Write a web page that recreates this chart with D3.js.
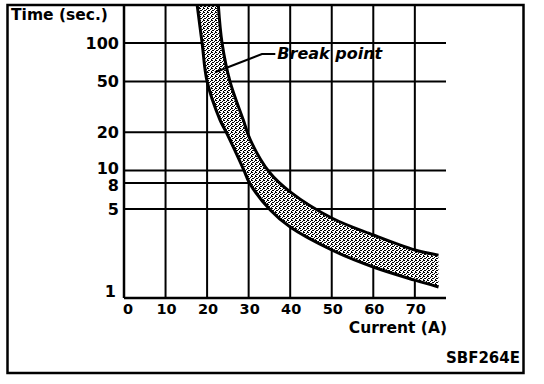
<!DOCTYPE html>
<html>
<head>
<meta charset="utf-8">
<script src="https://cdn.jsdelivr.net/npm/d3@7"></script>
<style>
  body { margin: 0; background: #fff; }
  text { font-family: 'DejaVu Sans', sans-serif; font-weight: bold; fill: #000; }
</style>
</head>
<body>
<div id="chart"></div>
<script>
const currentTicks = [0, 10, 20, 30, 40, 50, 60, 70];
const timeTicks = [1, 5, 8, 10, 20, 50, 100];
const fullGridTimes = [1, 5, 10, 50, 100];
const shortGridTimes = [8, 20]; // lines stop at 30 A

// lower (minimum) boundary of the band
const minCurrent = [17.6, 18.8, 20.0, 23.1, 24.6, 28.9, 30.2, 35.2, 40, 50, 60, 70, 75.7];
const minTime = [200, 100, 50, 25, 20, 10, 8, 4.9, 3.6, 2.38, 1.75, 1.38, 1.22];
// upper (maximum) boundary of the band
const maxCurrent = [22.7, 23.6, 25.5, 28.7, 30.4, 35, 40, 50, 60, 70, 75.7];
const maxTime = [200, 100, 50, 25, 17.4, 9.7, 6.8, 4.24, 3.12, 2.38, 2.17];

// "Break point" leader: arrow end, elbow, label start
const breakCurrent = [21.9, 33.2, 36.9];
const breakTime = [59, 82, 82];

const width = 544;
const height = 384;

const svg = d3.select('#chart')
  .append('svg')
  .attr('width', width)
  .attr('height', height);

const x = d3.scaleLinear().domain([0, 77.5]).range([124, 446]);
const y = d3.scaleLog().domain([1, 199]).range([298, 5]);

// stipple pattern for the band
const defs = svg.append('defs');
const pat = defs.append('pattern')
  .attr('id', 'stipple')
  .attr('width', 4)
  .attr('height', 4)
  .attr('patternUnits', 'userSpaceOnUse');
pat.append('rect').attr('width', 4).attr('height', 4).attr('fill', '#fff');
[[0, 0], [2, 1], [1, 2], [3, 3], [3, 0], [0, 2]].forEach(([px, py]) => {
  pat.append('rect').attr('x', px).attr('y', py).attr('width', 1).attr('height', 1).attr('fill', '#000');
});

defs.append('clipPath').attr('id', 'plotClip')
  .append('rect')
  .attr('x', x(0))
  .attr('y', y(199))
  .attr('width', x(77.5) - x(0))
  .attr('height', y(1) - y(199));

// grid
const grid = svg.append('g').attr('stroke', '#000');

grid.selectAll('.vline').data(currentTicks).enter()
  .append('line')
  .attr('x1', (d) => x(d))
  .attr('x2', (d) => x(d))
  .attr('y1', y(199))
  .attr('y2', y(1))
  .attr('stroke-width', (d) => (d === 0 ? 2.5 : 2));

grid.selectAll('.hfull').data(fullGridTimes).enter()
  .append('line')
  .attr('x1', x(0))
  .attr('x2', x(77.5))
  .attr('y1', (d) => y(d))
  .attr('y2', (d) => y(d))
  .attr('stroke-width', (d) => (d === 1 ? 2.5 : 2));

grid.selectAll('.hshort').data(shortGridTimes).enter()
  .append('line')
  .attr('x1', x(0))
  .attr('x2', x(30))
  .attr('y1', (d) => y(d))
  .attr('y2', (d) => y(d))
  .attr('stroke-width', 2);

// band
const lower = minCurrent.map((c, i) => [x(c), y(minTime[i])]);
const upper = maxCurrent.map((c, i) => [x(c), y(maxTime[i])]);
const line = d3.line().curve(d3.curveCatmullRom);

const band = svg.append('g').attr('clip-path', 'url(#plotClip)');
band.append('path')
  .attr('d', `${line(lower)}${line(upper.slice().reverse()).replace(/^M/, 'L')}Z`)
  .attr('fill', 'url(#stipple)')
  .attr('stroke', 'none');
[lower, upper].forEach((pts) => {
  band.append('path')
    .attr('d', line(pts))
    .attr('fill', 'none')
    .attr('stroke', '#000')
    .attr('stroke-width', 3);
});

// frame
svg.append('rect')
  .attr('x', 7.5)
  .attr('y', 5)
  .attr('width', 516)
  .attr('height', 368)
  .attr('fill', 'none')
  .attr('stroke', '#000')
  .attr('stroke-width', 2.5);

// y tick labels
svg.selectAll('.ylab').data(timeTicks).enter()
  .append('text')
  .attr('x', (d) => (d === 1 ? 116 : 119))
  .attr('y', (d) => {
    if (d === 1) return y(d) - 1;
    if (d === 10) return y(d) + 3;
    if (d === 8) return y(d) + 8;
    return y(d) + 6;
  })
  .attr('text-anchor', 'end')
  .style('font-size', '16px')
  .text((d) => d);

// x tick labels
svg.selectAll('.xlab').data(currentTicks).enter()
  .append('text')
  .attr('x', (d) => x(d) + (d === 0 ? 4 : 1))
  .attr('y', 314)
  .attr('text-anchor', 'middle')
  .style('font-size', '14.5px')
  .text((d) => d);

svg.append('text')
  .attr('x', 11)
  .attr('y', 20)
  .style('font-size', '15.5px')
  .text('Time (sec.)');

svg.append('text')
  .attr('x', 447)
  .attr('y', 333)
  .attr('text-anchor', 'end')
  .style('font-size', '15.5px')
  .text('Current (A)');

svg.append('text')
  .attr('x', 520)
  .attr('y', 363)
  .attr('text-anchor', 'end')
  .style('font-size', '15px')
  .text('SBF264E');

// break point annotation
const bp = breakCurrent.map((c, i) => [x(c), y(breakTime[i])]);
svg.append('path')
  .attr('d', d3.line()(bp.slice(0, 2).concat([[bp[2][0] - 2, bp[2][1]]])))
  .attr('fill', 'none')
  .attr('stroke', '#000')
  .attr('stroke-width', 2);
svg.append('text')
  .attr('x', bp[2][0])
  .attr('y', bp[2][1] + 5)
  .style('font-size', '16px')
  .style('font-style', 'italic')
  .text('Break point');
</script>
</body>
</html>
